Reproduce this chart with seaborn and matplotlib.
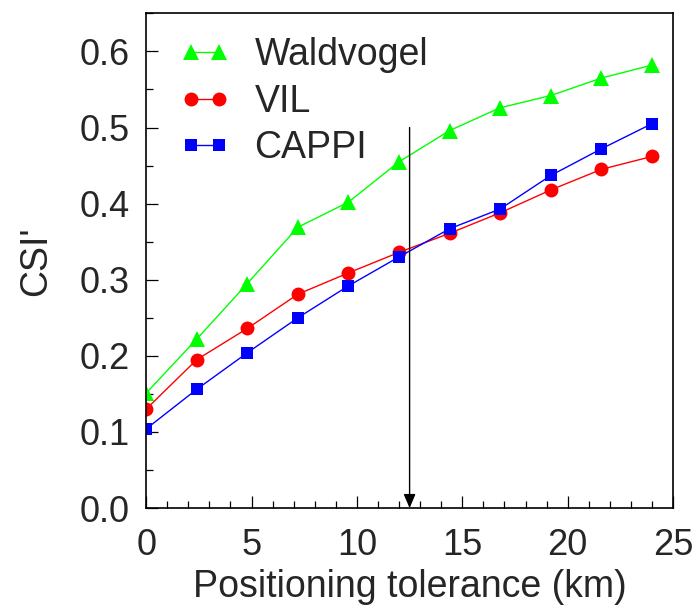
import matplotlib
matplotlib.use("Agg")
import matplotlib.pyplot as plt
from matplotlib.ticker import MultipleLocator, FormatStrFormatter
import seaborn as sns
import pandas as pd

# ---- data ----
tolerance_km = [0, 2.4, 4.8, 7.2, 9.6, 12.0, 14.4, 16.8, 19.2, 21.6, 24.0]
waldvogel = [0.151, 0.222, 0.295, 0.369, 0.402, 0.455, 0.496, 0.526, 0.542, 0.565, 0.582]
vil = [0.130, 0.195, 0.236, 0.281, 0.309, 0.336, 0.361, 0.388, 0.418, 0.445, 0.462]
cappi = [0.104, 0.156, 0.204, 0.250, 0.292, 0.330, 0.367, 0.393, 0.437, 0.472, 0.505]
series_names = ["Waldvogel", "VIL", "CAPPI"]
arrow_x = 12.5
arrow_top = 0.5

rows = []
for name, vals in zip(series_names, [waldvogel, vil, cappi]):
    for x, y in zip(tolerance_km, vals):
        rows.append({"tol": x, "csi": y, "method": name})
df = pd.DataFrame(rows)

sns.set_theme(style="ticks")
plt.rcParams["font.family"] = ["Liberation Sans", "DejaVu Sans"]

fig = plt.figure(figsize=(6.96, 6.07), dpi=100)
ax = fig.add_axes([0.21, 0.163, 0.757, 0.815])

palette = {"Waldvogel": "#00ff00", "VIL": "#ff0000", "CAPPI": "#0000ff"}
markers = {"Waldvogel": "^", "VIL": "o", "CAPPI": "s"}
sizes_ms = {"Waldvogel": 11, "VIL": 10, "CAPPI": 8.5}

for name in series_names:
    sub = df[df.method == name]
    sns.lineplot(data=sub, x="tol", y="csi", ax=ax, color=palette[name],
                 marker=markers[name], markersize=sizes_ms[name],
                 markeredgewidth=0, linewidth=1.0, label=name)

ax.annotate("", xy=(arrow_x, 0.0), xytext=(arrow_x, arrow_top),
            arrowprops=dict(arrowstyle="-|>,head_length=0.7,head_width=0.3",
                            color="black", lw=1.0, shrinkA=0, shrinkB=0))

ax.set_xlim(0, 25)
ax.set_ylim(0, 0.65)
ax.xaxis.set_major_locator(MultipleLocator(5))
ax.xaxis.set_minor_locator(MultipleLocator(1))
ax.yaxis.set_major_locator(MultipleLocator(0.1))
ax.yaxis.set_minor_locator(MultipleLocator(0.05))
ax.yaxis.set_major_formatter(FormatStrFormatter("%.1f"))
ax.tick_params(which="major", direction="in", length=8.5, width=0.9,
               labelsize=26, pad=12, color="black")
ax.tick_params(axis="x", which="major", pad=14)
ax.tick_params(which="minor", direction="in", length=5, width=0.9, color="black")
ax.tick_params(top=False, right=False, which="both")
for sp in ax.spines.values():
    sp.set_color("black")
    sp.set_linewidth(1.2)

ax.set_xlabel("Positioning tolerance (km)", fontsize=27, labelpad=5)
ax.set_ylabel("CSI'", fontsize=27, labelpad=18)

leg = ax.legend(loc="upper left", frameon=False, fontsize=27, numpoints=2,
                handlelength=1.35, handletextpad=0.65, labelspacing=0.28,
                borderaxespad=0.0, bbox_to_anchor=(0.035, 0.982))

fig.savefig("out.png", dpi=100)
